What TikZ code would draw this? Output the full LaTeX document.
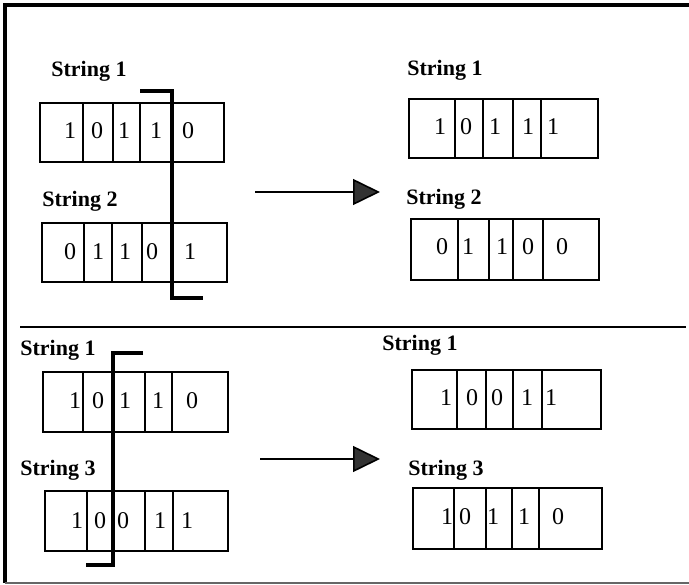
\documentclass[tikz,border=0pt]{standalone}
\usepackage{fontspec}
\setmainfont{Liberation Serif}
\usetikzlibrary{arrows.meta}
\tikzset{
  boxline/.style={line width=2.1pt},
  strbox/.style={draw, line width=2.1pt, anchor=north west, inner sep=0pt, outer sep=0pt},
  digit/.style={font=\fontsize{24}{26}\selectfont, inner sep=0pt},
  lab/.style={font=\fontsize{22}{24}\selectfont\bfseries, inner sep=0pt},
  cutline/.style={line width=3.2pt},
  arr/.style={line width=1.6pt, -{Triangle[length=27pt,width=26pt,fill=black!80]}},
}
\begin{document}
\begin{tikzpicture}[x=1pt,y=-1pt]
\useasboundingbox (0,0) rectangle (689,585);
% frame
\draw[line width=3.5pt] (689,5) -- (5,5) -- (5,583);
\draw[black!60, line width=1.5pt] (5,583) -- (689,583);
\draw[line width=1.8pt] (20,327) -- (686,327);

% ---------- top left ----------
\node[lab] (l1) at (89,71) {String 1};
\node[strbox, minimum width=184pt, minimum height=59pt] (b1) at (40,103) {};
\foreach \x in {83,113,140} \draw[boxline] (\x,103) -- (\x,162);
\foreach \x/\d [count=\i] in {70/1,97/0,124/1,156/1,188/0} \node[digit] (b1d\i) at (\x,131) {\d};

\node[lab] (l2) at (80,201) {String 2};
\node[strbox, minimum width=185pt, minimum height=59pt] (b2) at (42,223) {};
\foreach \x in {84,112,142} \draw[boxline] (\x,223) -- (\x,282);
\foreach \x/\d [count=\i] in {70/0,98/1,125/1,152/0,190/1} \node[digit] (b2d\i) at (\x,252) {\d};

\draw[cutline] (140,91) -- (172,91) -- (172,298) -- (203,298);

% arrow top
\coordinate (a1s) at (255,192);
\coordinate (a1e) at (380,192);
\draw[arr] (a1s) -- (a1e);

% ---------- top right ----------
\node[lab] (r1) at (445,70) {String 1};
\node[strbox, minimum width=189pt, minimum height=59pt] (c1) at (409,99) {};
\foreach \x in {455,483,513,541} \draw[boxline] (\x,99) -- (\x,158);
\foreach \x/\d [count=\i] in {440/1,466/0,495/1,528/1,553/1} \node[digit] (c1d\i) at (\x,127) {\d};

\node[lab] (r2) at (444,199) {String 2};
\node[strbox, minimum width=188pt, minimum height=61pt] (c2) at (411,219) {};
\foreach \x in {458,489,513,543} \draw[boxline] (\x,219) -- (\x,280);
\foreach \x/\d [count=\i] in {442/0,468/1,502/1,528/0,562/0} \node[digit] (c2d\i) at (\x,247) {\d};

% ---------- bottom left ----------
\node[lab] (l3) at (58,350) {String 1};
\node[strbox, minimum width=185pt, minimum height=60pt] (b3) at (43,372) {};
\foreach \x in {83,145,172} \draw[boxline] (\x,372) -- (\x,432);
\foreach \x/\d [count=\i] in {75/1,98/0,125/1,158/1,192/0} \node[digit] (b3d\i) at (\x,401) {\d};

\node[lab] (l4) at (58,470) {String 3};
\node[strbox, minimum width=183pt, minimum height=60pt] (b4) at (45,491) {};
\foreach \x in {87,145,173} \draw[boxline] (\x,491) -- (\x,551);
\foreach \x/\d [count=\i] in {77/1,100/0,123/0,160/1,187/1} \node[digit] (b4d\i) at (\x,521) {\d};

\draw[cutline] (143,353) -- (113,353) -- (113,565) -- (86,565);

% arrow bottom
\coordinate (a2s) at (260,459);
\coordinate (a2e) at (380,459);
\draw[arr] (a2s) -- (a2e);

% ---------- bottom right ----------
\node[lab] (r3) at (420,345) {String 1};
\node[strbox, minimum width=189pt, minimum height=59pt] (c3) at (412,370) {};
\foreach \x in {457,486,513,542} \draw[boxline] (\x,370) -- (\x,429);
\foreach \x/\d [count=\i] in {446/1,472/0,497/0,527/1,551/1} \node[digit] (c3d\i) at (\x,398) {\d};

\node[lab] (r4) at (446,470) {String 3};
\node[strbox, minimum width=189pt, minimum height=61pt] (c4) at (413,488) {};
\foreach \x in {454,486,512,539} \draw[boxline] (\x,488) -- (\x,549);
\foreach \x/\d [count=\i] in {447/1,465/0,493/1,524/1,558/0} \node[digit] (c4d\i) at (\x,517) {\d};
\end{tikzpicture}
\end{document}
